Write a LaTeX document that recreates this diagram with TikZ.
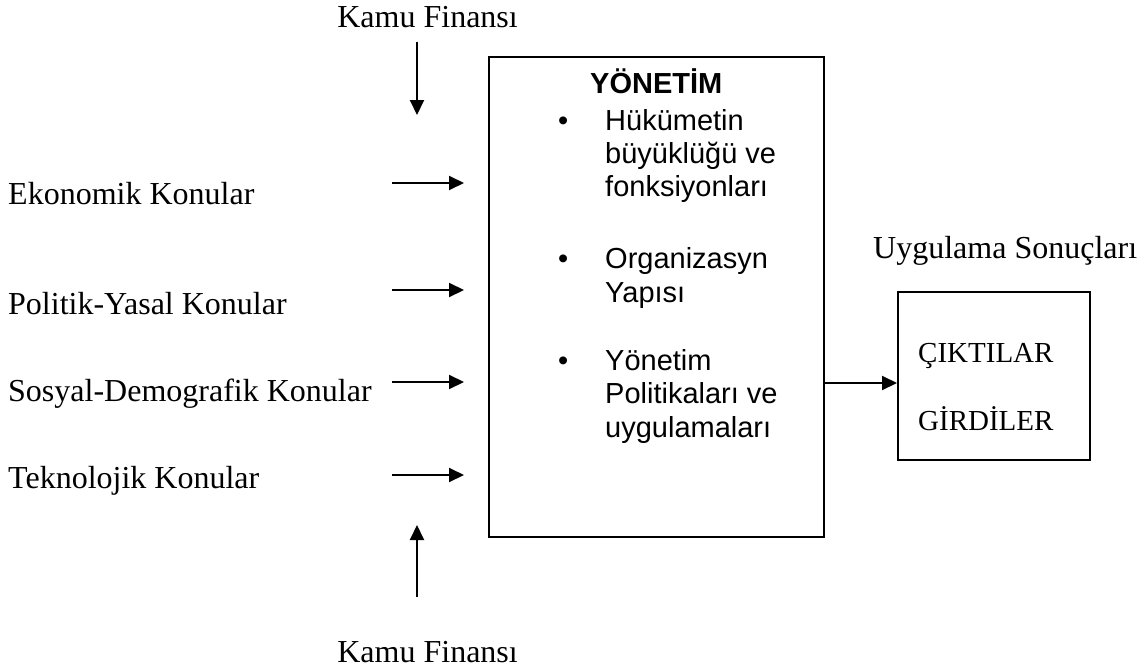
\documentclass[tikz,border=0pt]{standalone}
\usepackage{fontspec}
\setmainfont{Liberation Serif}
\setsansfont{Liberation Sans}
\usetikzlibrary{arrows.meta, positioning}
\tikzset{
	arr/.style={line width=2pt, -{Triangle[length=15pt, width=14pt]}}, % input and output arrows
	box/.style={draw, line width=2pt, inner sep=0pt}, % the two frames
	lbl/.style={inner sep=0pt, anchor=base west, font=\fontsize{32}{38}\selectfont}, % serif labels
	item/.style={inner sep=0pt, anchor=base west, font=\sffamily\fontsize{29}{33}\selectfont}, % text in the frame
}
\begin{document}
\begin{tikzpicture}[x=1pt, y=-1pt]
	\useasboundingbox (0,0) rectangle (1146,669);
	% frames
	\node[box, minimum width=335pt, minimum height=480pt, anchor=north west] (gov) at (488,56) {};
	\node[box, minimum width=192pt, minimum height=168pt, anchor=north west] (res) at (897,291) {};
	% labels on the left
	\node[lbl] (eko) at (8,204) {Ekonomik Konular};
	\node[lbl] (pol) at (8,314) {Politik-Yasal Konular};
	\node[lbl] (sos) at (8,401) {Sosyal-Demografik Konular};
	\node[lbl] (tek) at (8,488) {Teknolojik Konular};
	\node[lbl, anchor=base east] (finTop) at (518,28) {Kamu Finansı};
	\node[lbl, anchor=base east] (finBot) at (518,662) {Kamu Finansı};
	\node[lbl] (sonuc) at (873,258) {Uygulama Sonuçları};
	\node[lbl, font=\fontsize{29}{33}\selectfont] (cikti) at (918,362) {ÇIKTILAR};
	\node[lbl, font=\fontsize{29}{33}\selectfont] (girdi) at (918,430) {GİRDİLER};
	% inside the frame
	\node[item, font=\sffamily\bfseries\fontsize{29}{33}\selectfont] (title) at (590,93) {YÖNETİM};
	\foreach \yy [count=\i] in {130, 268, 370}
		\node[item] (dot\i) at (558,\yy) {•};
	\foreach \txt/\yy [count=\i] in {Hükümetin/130, büyüklüğü ve/163, fonksiyonları/196, Organizasyn/268, Yapısı/302, Yönetim/370, Politikaları ve/403, uygulamaları/437}
		\node[item] (line\i) at (605,\yy) {\txt};
	% arrows
	\coordinate (topS) at (417,42);
	\coordinate (topE) at (417,115);
	\coordinate (botS) at (417,597);
	\coordinate (botE) at (417,525);
	\draw[arr] (topS) -- (topE);
	\draw[arr] (botS) -- (botE);
	\foreach \name/\yy in {eko/183, pol/290, sos/382, tek/475} {
		\coordinate (\name S) at (392,\yy);
		\coordinate (\name E) at (464,\yy);
		\draw[arr] (\name S) -- (\name E);
	}
	\coordinate (outY) at (860,383);
	\draw[arr] (gov.east |- outY) -- (res.west |- outY);
\end{tikzpicture}
\end{document}
